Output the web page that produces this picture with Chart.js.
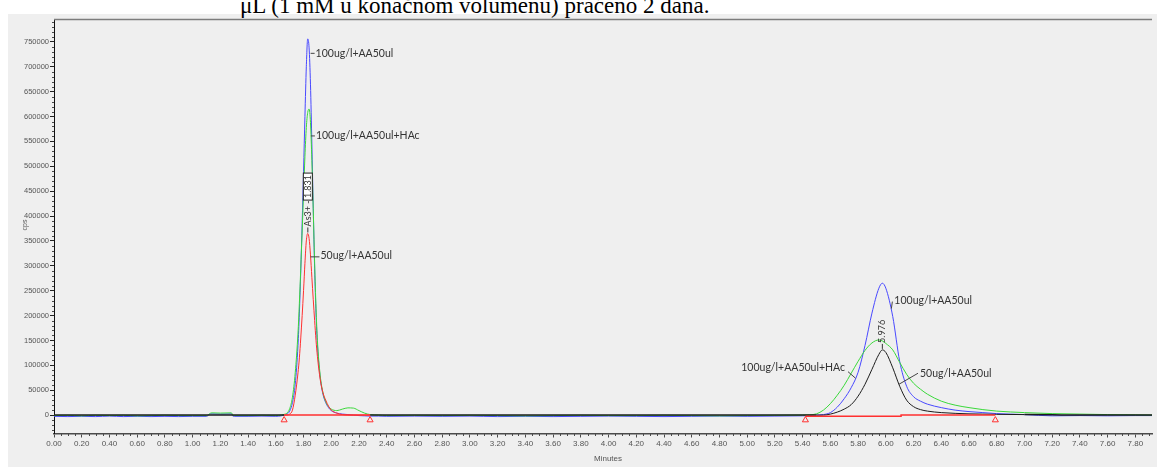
<!DOCTYPE html>
<html>
<head>
<meta charset="utf-8">
<script src="https://cdn.jsdelivr.net/npm/chart.js@4"></script>
<style>
  html, body { margin: 0; padding: 0; background: #fff; }
  body { width: 1157px; height: 467px; position: relative; overflow: hidden; }
  #panel { position: absolute; left: 8px; top: 14px; right: 0; bottom: 0; background: #efefef; }
  #caption { position: absolute; left: 240px; top: -6px; font: 23px/23px "Liberation Serif", "Times New Roman", serif; color: #000; white-space: nowrap; }
  #chrom { position: absolute; left: 0; top: 0; }
</style>
</head>
<body>
<div id="panel"></div>
<div id="caption">μL (1 mM u konačnom volumenu) praćeno 2 dana.</div>
<canvas id="chrom" width="1157" height="467"></canvas>
<script>
// retention time (min), shared by all three traces
const minutes = [
  0.00, 0.10, 0.20, 0.30, 0.40, 0.50, 0.60, 0.70, 0.80, 0.90, 1.00, 1.10,
  1.13, 1.14, 1.20, 1.28, 1.29, 1.32, 1.40, 1.50, 1.60, 1.64,
  1.66, 1.68, 1.70, 1.72, 1.74, 1.76,
  1.77, 1.78, 1.79, 1.80, 1.81, 1.82, 1.83, 1.84, 1.85, 1.86, 1.87, 1.88, 1.89, 1.90,
  1.92, 1.94, 1.96, 1.98, 2.00,
  2.04, 2.08, 2.12, 2.16, 2.20, 2.24, 2.28,
  2.34, 2.40,
  2.60, 2.80, 3.00, 3.20, 3.40, 3.60, 3.80, 4.00, 4.20, 4.40, 4.60, 4.80, 5.00, 5.20, 5.40,
  5.45, 5.50, 5.55, 5.60, 5.65, 5.70, 5.75, 5.80, 5.85, 5.90, 5.95,
  5.975,
  6.00, 6.05, 6.10, 6.15, 6.20, 6.25, 6.30,
  6.40, 6.50, 6.60, 6.70, 6.80,
  7.00, 7.20, 7.40, 7.60, 7.80, 7.92
];

// 100ug/l + AA 50ul
const cps100 = [
  -2500, -3000, -2500, -3000, -2000, -3000, -2500, -3000, -2500, -3000, -2500, -2500,
  2500, 2500, 2000, 2500, -2000, -2500, -2500, -2000, -2500, -1500,
  0, 2000, 8000, 25000, 62000, 140000,
  205000, 290000, 385000, 490000, 600000, 700000, 756000, 738000, 665000, 545000, 415000, 295000, 205000, 142000,
  76000, 42000, 25000, 15000, 9000,
  4000, 2000, 1000, 0, -1000, -1500, -2000,
  -2000, -2500,
  -2000, -2500, -2000, -3000, -2500, -3000, -2500, -2000, -2500, -3000, -2500, -2000, -2500, -2000, -1500,
  -1000, 0, 1000, 5000, 16000, 33000, 55000, 86000, 140000, 205000, 255000,
  265000,
  255000, 198000, 108000, 58000, 37000, 28000, 22000,
  15000, 10000, 7000, 5000, 3000,
  1000, -1500, -1000, -1500, -1000, -1000
];

// 100ug/l + AA 50ul + HAc
const cps100HAc = [
  -1000, -500, -1500, -500, -1000, -500, -1500, -1000, -500, -1000, -1000, -1000,
  4000, 4500, 4000, 4500, -500, -1000, -1000, -500, -1000, 0,
  1500, 4000, 13000, 36000, 85000, 165000,
  225000, 295000, 370000, 445000, 520000, 578000, 608000, 615000, 588000, 512000, 412000, 305000, 215000, 150000,
  80000, 45000, 27000, 17000, 12000,
  9000, 12000, 14500, 14000, 9000, 4000, 1000,
  0, -1000,
  -500, -1000, -500, -1000, -1500, -1000, -500, -1000, -1000, -500, -1000, -1500, -1000, -500, 0,
  500, 2500, 10000, 23000, 40000, 60000, 84000, 108000, 130000, 145000, 151000,
  149000,
  144000, 131000, 106000, 82000, 64000, 52000, 42000,
  28000, 20000, 15000, 11000, 8000,
  5000, 3000, 2000, 1000, 500, 0
];

// 50ug/l + AA 50ul
const cps50 = [
  0, 0, 0, 0, 0, 0, 0, 0, 0, 0, 0, 0,
  0, 0, 0, 0, 0, 0, 0, 0, 0, 0,
  0, 0, 2000, 10000, 40000, 85000,
  115000, 155000, 200000, 250000, 305000, 350000, 365000, 355000, 322000, 277000, 232000, 190000, 150000, 118000,
  72000, 45000, 30000, 18000, 10000,
  4000, 1000, 0, 0, 0, 0, 0,
  0, 0,
  0, 0, 0, 0, 0, 0, 0, 0, 0, 0, 0, 0, 0, 0, 0,
  0, 0, 0, 2000, 6000, 12000, 21000, 38000, 62000, 92000, 122000,
  131000,
  126000, 95000, 58000, 30000, 17000, 11000, 8000,
  5000, 3500, 2500, 2000, 1500,
  1000, 500, 0, 0, 0, 0
];

// integration baselines and their start/end marks
const integMinutes = [1.66, 2.28, 2.29, 5.42, 6.11, 6.11, 6.79];
const integCps = [0, 0, null, -2500, -2500, 0, 0];
const markMinutes = [1.66, 2.28, 5.42, 6.79];

const xTicks = [
  0.0, 0.2, 0.4, 0.6, 0.8, 1.0, 1.2, 1.4, 1.6, 1.8, 2.0, 2.2, 2.4, 2.6, 2.8, 3.0, 3.2, 3.4, 3.6, 3.8,
  4.0, 4.2, 4.4, 4.6, 4.8, 5.0, 5.2, 5.4, 5.6, 5.8, 6.0, 6.2, 6.4, 6.6, 6.8, 7.0, 7.2, 7.4, 7.6, 7.8
];
const yTicks = [0, 50000, 100000, 150000, 200000, 250000, 300000, 350000, 400000,
  450000, 500000, 550000, 600000, 650000, 700000, 750000];

const BLUE = '#4848ff', GREEN = '#3ad83a', RED = '#ff3030', BLACK = '#1c1c1c';
const tickFont = '"Liberation Sans Narrow", "Liberation Sans", Arial, sans-serif';
const noteFont = 'Lato, "Open Sans", sans-serif';

// peak labels: leader starts at [min, cps], runs by `lead` px, text sits at `off` px from the leader end
const peakNotes = [
  { text: '100ug/l+AA50ul', at: [1.851, 727000], lead: [4, 0], off: [1, 0], align: 'left' },
  { text: '100ug/l+AA50ul+HAc', at: [1.853, 561000], lead: [4, 0], off: [1, 0], align: 'left' },
  { text: '50ug/l+AA50ul', at: [1.850, 318000], lead: [9, 0], off: [1, -1], align: 'left' },
  { text: '100ug/l+AA50ul', at: [6.040, 214000], lead: [1, -7], off: [2, -1], align: 'left' },
  { text: '100ug/l+AA50ul+HAc', at: [5.782, 74000], lead: [-7.6, -6.6], off: [-3, -4], align: 'right' },
  { text: '50ug/l+AA50ul', at: [6.095, 62000], lead: [19, -11], off: [2, 0], align: 'left' }
];
const rtNotes = [
  { text: 'As3+ - 1.831', at: [1.831, 365000], box: true },
  { text: '5.976', at: [5.975, 131000], box: false }
];

const asPoints = (xs, ys) => xs.map((x, i) => ({ x: x, y: ys[i] }));
const inFirstPeak = c => c.p0.parsed.x >= 1.66 && c.p1.parsed.x <= 2.28;
const inSecondPeak = c => c.p0.parsed.x >= 5.5 && c.p1.parsed.x <= 7.0;

const decor = {
  id: 'decor',
  afterDraw(chart) {
    const ctx = chart.ctx, a = chart.chartArea;
    const xs = chart.scales.x, ys = chart.scales.y;
    ctx.save();

    // frame line on top of the plot
    ctx.strokeStyle = '#7c7c7c';
    ctx.lineWidth = 1.5;
    ctx.beginPath();
    ctx.moveTo(a.left, a.top + 0.5);
    ctx.lineTo(a.right, a.top + 0.5);
    ctx.stroke();

    // minor ticks
    ctx.strokeStyle = '#4a4a4a';
    ctx.lineWidth = 1;
    ctx.beginPath();
    for (let k = 1; k < 159; k++) {
      if (k % 4 === 0) continue;
      const px = Math.round(xs.getPixelForValue(k * 0.05)) + 0.5;
      ctx.moveTo(px, a.bottom);
      ctx.lineTo(px, a.bottom + 2.5);
    }
    for (let v = -30000; v <= 790000; v += 10000) {
      if (v % 50000 === 0) continue;
      const py = Math.round(ys.getPixelForValue(v)) + 0.5;
      ctx.moveTo(a.left - 2, py);
      ctx.lineTo(a.left, py);
    }
    ctx.stroke();

    // axis titles
    ctx.fillStyle = '#555';
    ctx.font = '8px ' + tickFont;
    ctx.textAlign = 'center';
    ctx.textBaseline = 'middle';
    ctx.fillText('Minutes', 608, 459);
    ctx.save();
    ctx.translate(25, 225);
    ctx.rotate(-Math.PI / 2);
    ctx.font = '7px ' + tickFont;
    ctx.fillText('cps', 0, 0);
    ctx.restore();

    // peak labels with leader lines
    ctx.font = '10.5px ' + noteFont;
    ctx.textBaseline = 'middle';
    peakNotes.forEach(n => {
      const x0 = xs.getPixelForValue(n.at[0]), y0 = ys.getPixelForValue(n.at[1]);
      const x1 = x0 + n.lead[0], y1 = y0 + n.lead[1];
      ctx.strokeStyle = '#444';
      ctx.lineWidth = 1;
      ctx.beginPath();
      ctx.moveTo(x0, y0);
      ctx.lineTo(x1, y1);
      ctx.stroke();
      ctx.fillStyle = '#333';
      ctx.textAlign = n.align;
      ctx.fillText(n.text, x1 + n.off[0], y1 + n.off[1]);
    });

    // retention-time labels, written upwards above the apex
    ctx.font = '9px ' + noteFont;
    rtNotes.forEach(n => {
      const px = xs.getPixelForValue(n.at[0]), py = ys.getPixelForValue(n.at[1]);
      ctx.strokeStyle = '#333';
      ctx.lineWidth = 1;
      ctx.beginPath();
      ctx.moveTo(px, py - 1);
      ctx.lineTo(px, py - 6);
      ctx.stroke();
      ctx.save();
      ctx.translate(px, py - 7);
      ctx.rotate(-Math.PI / 2);
      const w = ctx.measureText(n.text).width;
      if (n.box) {
        const tail = ctx.measureText('1.831').width;
        ctx.fillStyle = '#fff';
        ctx.fillRect(w - tail - 2, -4.5, tail + 4, 9);
        ctx.strokeStyle = '#222';
        ctx.strokeRect(w - tail - 2, -4.5, tail + 4, 9);
      }
      ctx.fillStyle = '#333';
      ctx.textAlign = 'left';
      ctx.textBaseline = 'middle';
      ctx.fillText(n.text, 0, 0);
      ctx.restore();
    });

    ctx.restore();
  }
};

new Chart(document.getElementById('chrom'), {
  type: 'line',
  data: {
    datasets: [
      {
        label: 'marks',
        data: markMinutes.map(m => ({ x: m, y: -10000 })),
        showLine: false,
        pointStyle: 'triangle',
        pointRadius: 3.5,
        pointBorderColor: RED,
        pointBackgroundColor: 'rgba(0,0,0,0)',
        pointBorderWidth: 1,
        order: 0
      },
      {
        label: 'integration',
        data: asPoints(integMinutes, integCps),
        borderColor: RED,
        borderWidth: 1.5,
        tension: 0,
        cubicInterpolationMode: 'default',
        spanGaps: false,
        order: 1
      },
      {
        label: '50ug/l+AA50ul',
        data: asPoints(minutes, cps50),
        borderWidth: 1.5,
        borderColor: BLACK,
        segment: {
          borderColor: c => inFirstPeak(c) ? RED : BLACK,
          borderWidth: c => (inFirstPeak(c) || inSecondPeak(c)) ? 1 : 1.5
        },
        order: 2
      },
      {
        label: '100ug/l+AA50ul+HAc',
        data: asPoints(minutes, cps100HAc),
        borderColor: GREEN,
        order: 3
      },
      {
        label: '100ug/l+AA50ul',
        data: asPoints(minutes, cps100),
        borderColor: BLUE,
        order: 4
      }
    ]
  },
  options: {
    responsive: false,
    animation: false,
    devicePixelRatio: 1,
    layout: { padding: { top: 19, right: 0, bottom: 0, left: 0 } },
    plugins: { legend: { display: false }, tooltip: { enabled: false } },
    elements: {
      point: { radius: 0 },
      line: { borderWidth: 1, cubicInterpolationMode: 'monotone', fill: false }
    },
    scales: {
      x: {
        type: 'linear',
        min: 0,
        max: 7.92,
        afterFit: s => { s.height = 33.5; },
        afterBuildTicks: s => { s.ticks = xTicks.map(v => ({ value: v })); },
        border: { color: '#4a4a4a', width: 1.5 },
        grid: { drawOnChartArea: false, tickLength: 4, color: '#4a4a4a' },
        ticks: {
          autoSkip: false, maxRotation: 0, padding: 1, color: '#555',
          font: { family: tickFont, size: 8 },
          callback: v => Number(v).toFixed(2)
        }
      },
      y: {
        type: 'linear',
        min: -37000,
        max: 796000,
        afterFit: s => { s.width = 54; },
        afterBuildTicks: s => { s.ticks = yTicks.map(v => ({ value: v })); },
        border: { color: '#111', width: 1 },
        grid: { drawOnChartArea: false, tickLength: 4, color: '#222' },
        ticks: {
          padding: 1, color: '#555',
          font: { family: tickFont, size: 7.5 },
          callback: v => String(v)
        }
      }
    }
  },
  plugins: [decor]
});
</script>
</body>
</html>
